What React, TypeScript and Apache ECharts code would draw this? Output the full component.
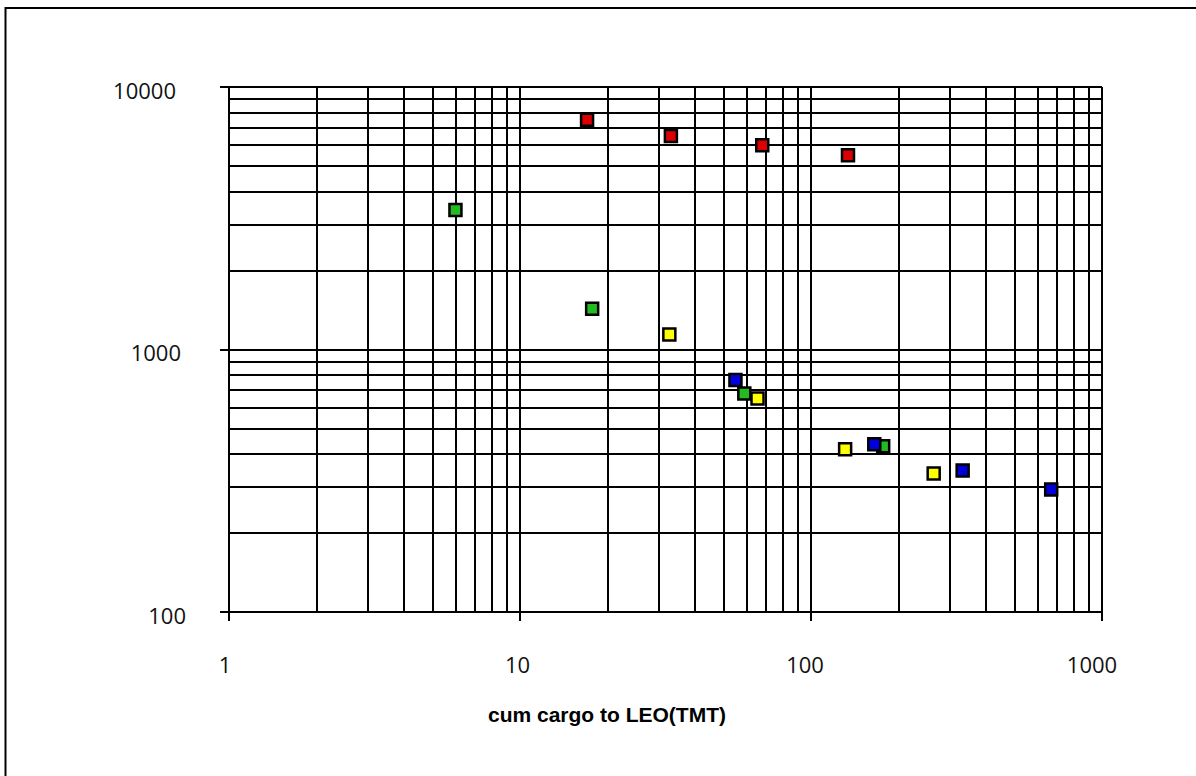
import React, { useEffect, useRef } from "react";
import * as echarts from "echarts";

// ---- data ----
const redX = [17, 33, 68, 134];
const redY = [7500, 6500, 6000, 5500];
const greenX = [6, 17.7, 59, 177];
const greenY = [3400, 1430, 680, 428];
const yellowX = [32.6, 65.5, 131, 264];
const yellowY = [1140, 650, 417, 337];
const blueX = [55, 165, 332, 669];
const blueY = [765, 436, 346, 293];

const xMinorTicks = [2, 3, 4, 5, 6, 7, 8, 9, 20, 30, 40, 50, 60, 70, 80, 90, 200, 300, 400, 500, 600, 700, 800, 900];
const yMinorTicks = [200, 300, 400, 500, 600, 700, 800, 900, 2000, 3000, 4000, 5000, 6000, 7000, 8000, 9000];
const xTickLabels = ["1", "10", "100", "1000"];
const yTickLabels = ["100", "1000", "10000"];
const xTitle = "cum cargo to LEO(TMT)";

const zip = (xs: number[], ys: number[]) => xs.map((x, i) => [x, ys[i]]);

const labelFont = { fontFamily: "Open Sans", fontSize: 22, color: "#111", lineHeight: 24 };
const xPad: Record<string, number> = { "1": 8, "10": 5, "100": 12, "1000": 20 };
const yPad: Record<string, number> = { "100": 0, "1000": 5, "10000": 10 };

const xRich: Record<string, any> = {};
xTickLabels.forEach((t) => {
  xRich["x" + t] = { ...labelFont, padding: [0, xPad[t], 0, 0] };
});
const yRich: Record<string, any> = {};
yTickLabels.forEach((t) => {
  yRich["y" + t] = { ...labelFont, padding: [5, yPad[t], 0, 0] };
});

const black = "#000";
const LW = 2;

function marker(name: string, color: string, xs: number[], ys: number[]) {
  return {
    name,
    type: "scatter",
    symbol: "rect",
    symbolSize: 12,
    z: 5,
    itemStyle: { color, borderColor: black, borderWidth: 2.5, opacity: 1 },
    data: zip(xs, ys),
  };
}

export default function App() {
  const ref = useRef<HTMLDivElement>(null);
  useEffect(() => {
    const chart = echarts.init(ref.current!, null, { renderer: "svg" });
    const option: any = {
      animation: false,
      backgroundColor: "#fff",
      grid: { left: 229, top: 87, width: 873, height: 525, containLabel: false },
      xAxis: {
        type: "log",
        logBase: 10,
        min: 1,
        max: 1000,
        axisLine: { show: true, lineStyle: { color: black, width: LW } },
        axisTick: { show: true, inside: false, length: 9, lineStyle: { color: black, width: LW } },
        splitLine: { show: true, lineStyle: { color: black, width: LW } },
        minorTick: { show: false },
        axisLabel: {
          margin: 40,
          formatter: (v: number) => {
            const t = String(Math.round(v));
            return `{x${t}|${t}}`;
          },
          rich: xRich,
        },
      },
      yAxis: {
        type: "log",
        logBase: 10,
        min: 100,
        max: 10000,
        axisLine: { show: true, lineStyle: { color: black, width: LW } },
        axisTick: { show: true, inside: false, length: 9, lineStyle: { color: black, width: LW } },
        splitLine: { show: true, lineStyle: { color: black, width: LW } },
        minorTick: { show: false },
        axisLabel: {
          margin: 43,
          align: "right",
          formatter: (v: number) => {
            const t = String(Math.round(v));
            return `{y${t}|${t}}`;
          },
          rich: yRich,
        },
      },
      graphic: [
        {
          type: "line",
          shape: { x1: 5.5, y1: 8, x2: 1196, y2: 8 },
          style: { stroke: black, lineWidth: 2 },
        },
        {
          type: "line",
          shape: { x1: 5.5, y1: 7, x2: 5.5, y2: 776 },
          style: { stroke: black, lineWidth: 2 },
        },
        {
          type: "text",
          x: 607,
          y: 714,
          style: {
            text: xTitle,
            align: "center",
            verticalAlign: "middle",
            fontFamily: "Liberation Sans",
            fontWeight: "bold",
            fontSize: 21,
            fill: black,
          },
        },
      ],
      series: [
        {
          name: "grid",
          type: "scatter",
          data: [],
          z: 1,
          silent: true,
          markLine: {
            silent: true,
            symbol: ["none", "none"],
            label: { show: false },
            emphasis: { disabled: true },
            lineStyle: { color: black, width: LW, type: "solid" },
            data: [
              ...xMinorTicks.map((v) => ({ xAxis: v })),
              ...yMinorTicks.map((v) => ({ yAxis: v })),
            ],
          },
        },
        marker("red", "#dd0000", redX, redY),
        marker("green", "#22bb22", greenX, greenY),
        marker("yellow", "#ffff00", yellowX, yellowY),
        marker("blue", "#0000dd", blueX, blueY),
      ],
    };
    chart.setOption(option);
    return () => chart.dispose();
  }, []);
  return (
    <div
      ref={ref}
      style={{ position: "absolute", left: 0, top: 0, width: 1196, height: 776, background: "#fff" }}
    />
  );
}
